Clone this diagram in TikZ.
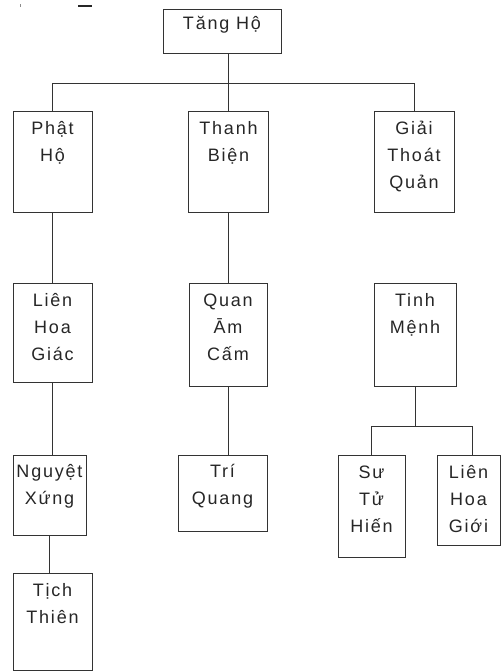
\documentclass[tikz,border=0pt]{standalone}
\usepackage{fontspec}
\newfontfamily\lab{Liberation Sans}[LetterSpace=10]
\tikzset{
  bx/.style={draw=black!80, line width=0.9pt, rectangle, inner sep=0pt},
  lbl/.style={anchor=north, align=center, inner sep=0pt, text=black!85,
    font=\lab\fontsize{18}{27}\selectfont},
  conn/.style={draw=black!80, line width=0.9pt},
}
\newcommand{\fs}{\rule{0pt}{18pt}}
\begin{document}
\begin{tikzpicture}[x=1pt,y=-1pt]
\useasboundingbox (0,0) rectangle (501,672);
% stray marks at the top
\fill[black!45] (20,4) rectangle (21,7);
\fill[black!85] (78,4.5) rectangle (92,6.5);
% boxes
\node[bx, minimum width=118, minimum height=44,
  label={[lbl, yshift=-3pt]north:\fs T\u{a}ng Hộ}] (tang) at (222,31) {};
\node[bx, minimum width=79, minimum height=101,
  label={[lbl, yshift=-6pt]north:\fs Phật\\Hộ}] (phat) at (52.5,161.5) {};
\node[bx, minimum width=80, minimum height=101,
  label={[lbl, yshift=-6pt]north:\fs Thanh\\Biện}] (thanh) at (228.5,161.5) {};
\node[bx, minimum width=80, minimum height=101,
  label={[lbl, yshift=-6pt]north:\fs Giải\\Thoát\\Quản}] (giai) at (414,161.5) {};
\node[bx, minimum width=79, minimum height=99,
  label={[lbl, yshift=-6pt]north:\fs Liên\\Hoa\\Giác}] (lien) at (52.5,332.5) {};
\node[bx, minimum width=78, minimum height=103,
  label={[lbl, yshift=-6pt]north:\fs Quan\\Ām\\Cấm}] (quan) at (228,334.5) {};
\node[bx, minimum width=82, minimum height=103,
  label={[lbl, yshift=-6pt]north:\fs Tinh\\Mệnh}] (tinh) at (415,334.5) {};
\node[bx, minimum width=73, minimum height=80,
  label={[lbl, yshift=-5pt]north:\fs Nguyệt\\Xứng}] (nguyet) at (49.5,495) {};
\node[bx, minimum width=89, minimum height=76,
  label={[lbl, yshift=-5pt]north:\fs Trí\\Quang}] (tri) at (222.5,493) {};
\node[bx, minimum width=67, minimum height=102,
  label={[lbl, yshift=-6pt]north:\fs Sư\\Tử\\Hiến}] (su) at (371.5,506) {};
\node[bx, minimum width=63, minimum height=90,
  label={[lbl, yshift=-6pt]north:\fs Liên\\Hoa\\Giới}] (lienhg) at (468.5,500) {};
\node[bx, minimum width=79, minimum height=97,
  label={[lbl, yshift=-6pt]north:\fs Tịch\\Thiên}] (tich) at (52.5,621.5) {};
% connectors
\draw[conn] (tang.south -| quan.north) -- (quan.north |- thanh.north);
\draw[conn] (phat.north) -- ++(0,-27) coordinate (tbar) -| (giai.north);
\draw[conn] (phat.south) -- (lien.north);
\draw[conn] (quan.north |- thanh.south) -- (quan.north);
\draw[conn] (lien.south) -- (lien.south |- nguyet.north);
\draw[conn] (nguyet.south) -- (nguyet.south |- tich.north);
\draw[conn] (quan.south) -- (quan.south |- tri.north);
\draw[conn] (tinh.south) -- ++(0,40) coordinate (tj);
\draw[conn] (su.north) |- (tj) -| ([xshift=4pt]lienhg.north);
\end{tikzpicture}
\end{document}
